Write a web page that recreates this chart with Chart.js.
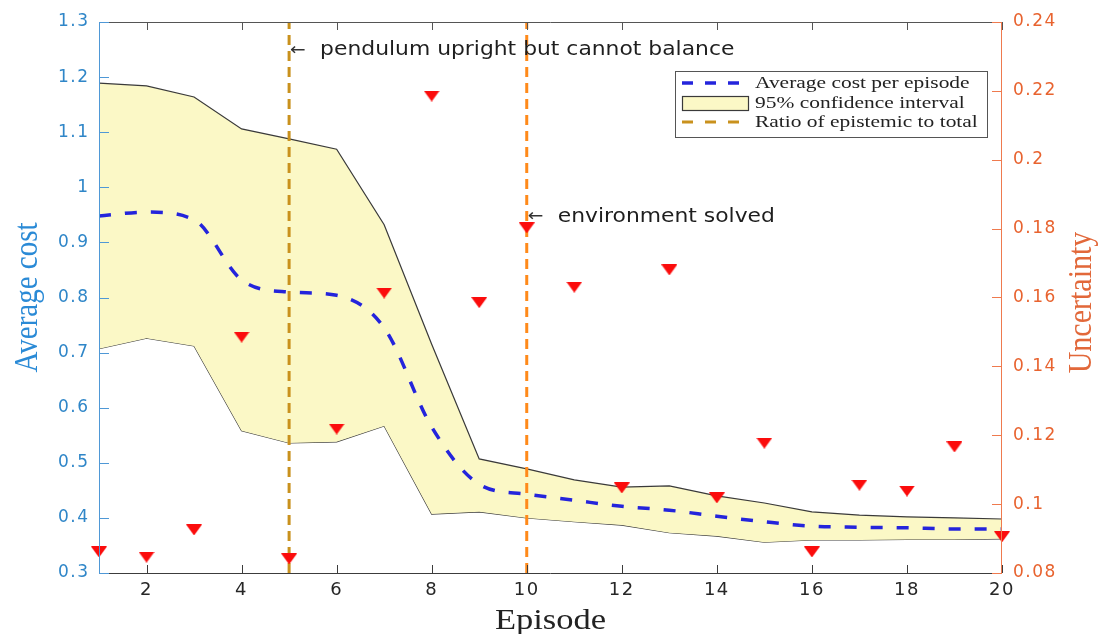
<!DOCTYPE html>
<html>
<head>
<meta charset="utf-8">
<title>Average cost and uncertainty per episode</title>
<script src="https://cdn.jsdelivr.net/npm/chart.js@4.4.0/dist/chart.umd.min.js"></script>
<style>
  html, body { margin: 0; padding: 0; background: #ffffff; }
  #wrap { width: 1105px; height: 634px; }
</style>
</head>
<body>
<div id="wrap"><canvas id="c" width="1105" height="634"></canvas></div>
<script>
// ---- data ----
const episodes    = [1, 2, 3, 4, 5, 6, 7, 8, 9, 10, 11, 12, 13, 14, 15, 16, 17, 18, 19, 20];
const avgCost     = [0.948, 0.955, 0.941, 0.832, 0.810, 0.804, 0.745, 0.565, 0.461, 0.443,
                     0.432, 0.421, 0.414, 0.403, 0.393, 0.385, 0.383, 0.382, 0.380, 0.380];
const ciUpper     = [1.189, 1.184, 1.164, 1.106, 1.088, 1.069, 0.932, 0.715, 0.507, 0.489,
                     0.469, 0.456, 0.458, 0.440, 0.427, 0.411, 0.405, 0.402, 0.400, 0.398];
const ciLower     = [0.707, 0.726, 0.712, 0.558, 0.536, 0.538, 0.567, 0.407, 0.411, 0.400,
                     0.393, 0.387, 0.373, 0.367, 0.356, 0.360, 0.360, 0.361, 0.361, 0.362];
const uncertainty = [0.0861, 0.0846, 0.0925, 0.1485, 0.0841, 0.1218, 0.1613, 0.2185, 0.1585, 0.1802,
                     0.1630, 0.1047, 0.1680, 0.1018, 0.1177, 0.0861, 0.1055, 0.1038, 0.1166, 0.0905];

// events marked with vertical lines, and the cost level their notes sit at
const eventEpisodes  = [5, 10];
const eventNotes     = ['pendulum upright but cannot balance', 'environment solved'];
const eventNoteCost  = [1.249, 0.946];

// axis ticks
const xTicks    = [2, 4, 6, 8, 10, 12, 14, 16, 18, 20];
const costTicks = [0.3, 0.4, 0.5, 0.6, 0.7, 0.8, 0.9, 1.0, 1.1, 1.2, 1.3];
const uncTicks  = [0.08, 0.10, 0.12, 0.14, 0.16, 0.18, 0.20, 0.22, 0.24];

// legend entries
const legendLabels = ['Average cost per episode', '95% confidence interval', 'Ratio of epistemic to total'];

// ---- styles ----
const COST_BLUE  = '#2f86c8';
const UNC_ORANGE = '#e8632f';
const MEAN_BLUE  = '#2424dc';
const CI_FILL    = '#fbf8c6';
const CI_EDGE    = '#3a3a3a';
const EVENT_COLORS = ['#c9911d', '#ff8a1a'];
const TICK_FONT  = '"DejaVu Sans", sans-serif';
const SERIF      = '"Liberation Serif", "Times New Roman", serif';

// downward triangle marker
const tri = document.createElement('canvas');
tri.width = 16; tri.height = 11;
(function () {
  const g = tri.getContext('2d');
  g.fillStyle = '#fb0c0c';
  g.beginPath();
  g.moveTo(0, 0); g.lineTo(16, 0); g.lineTo(8, 11); g.closePath();
  g.fill();
})();

const pts = (ys) => episodes.map((e, i) => ({ x: e, y: ys[i] }));
const fmt = (v) => String(+Number(v).toFixed(2));

const eventDatasets = eventEpisodes.map((e, i) => ({
  label: 'event' + i,
  data: [{ x: e, y: costTicks[0] }, { x: e, y: costTicks[costTicks.length - 1] }],
  yAxisID: 'y',
  borderColor: EVENT_COLORS[i],
  borderWidth: 3,
  borderDash: [10, 6],
  pointRadius: 0,
  fill: false,
  order: 2
}));

const datasets = [
  {
    label: 'Uncertainty',
    data: pts(uncertainty),
    yAxisID: 'y2',
    showLine: false,
    pointStyle: tri,
    pointRadius: 8,
    clip: false,
    order: 0
  },
  {
    label: legendLabels[0],
    data: pts(avgCost),
    yAxisID: 'y',
    borderColor: MEAN_BLUE,
    borderWidth: 3.5,
    borderDash: [12, 14],
    cubicInterpolationMode: 'monotone',
    pointRadius: 0,
    fill: false,
    order: 1
  },
  ...eventDatasets,
  {
    label: legendLabels[1],
    data: pts(ciUpper),
    yAxisID: 'y',
    borderColor: CI_EDGE,
    borderWidth: 1.2,
    backgroundColor: CI_FILL,
    pointRadius: 0,
    tension: 0,
    fill: '+1',
    order: 3
  },
  {
    label: 'lower',
    data: pts(ciLower),
    yAxisID: 'y',
    borderColor: CI_EDGE,
    borderWidth: 1.2,
    pointRadius: 0,
    tension: 0,
    fill: false,
    order: 3
  }
];

function stretchText(ctx, text, x, y, sx) {
  ctx.save();
  ctx.translate(x, y);
  ctx.scale(sx, 1);
  ctx.fillText(text, 0, 0);
  ctx.restore();
}

// tick labels are a little wider than the plain font
const spacingPlugin = {
  id: 'tickSpacing',
  beforeDraw(chart) { chart.ctx.letterSpacing = '1.5px'; },
  beforeDatasetsDraw(chart) { chart.ctx.letterSpacing = '0px'; }
};

// box, inward ticks, notes, titles and legend
const framePlugin = {
  id: 'frame',
  afterDatasetsDraw(chart) {
    const { ctx, chartArea: a, scales } = chart;
    const X = scales.x, Y = scales.y, Y2 = scales.y2;
    ctx.save();
    ctx.lineWidth = 1;
    // top and bottom
    ctx.strokeStyle = '#555555';
    ctx.beginPath(); ctx.moveTo(a.left, a.top + 0.5); ctx.lineTo(a.right, a.top + 0.5); ctx.stroke();
    ctx.strokeStyle = '#3c3c3c';
    ctx.beginPath(); ctx.moveTo(a.left, a.bottom + 0.5); ctx.lineTo(a.right, a.bottom + 0.5); ctx.stroke();
    xTicks.forEach(v => {
      const px = Math.round(X.getPixelForValue(v)) + 0.5;
      ctx.strokeStyle = '#3c3c3c';
      ctx.beginPath(); ctx.moveTo(px, a.bottom); ctx.lineTo(px, a.bottom - 8); ctx.stroke();
      ctx.strokeStyle = '#555555';
      ctx.beginPath(); ctx.moveTo(px, a.top); ctx.lineTo(px, a.top + 8); ctx.stroke();
    });
    // left axis
    ctx.strokeStyle = '#4f98d6';
    ctx.beginPath(); ctx.moveTo(a.left + 0.5, a.top); ctx.lineTo(a.left + 0.5, a.bottom + 1); ctx.stroke();
    costTicks.forEach(v => {
      const py = Math.round(Y.getPixelForValue(v)) + 0.5;
      ctx.beginPath(); ctx.moveTo(a.left, py); ctx.lineTo(a.left + 10, py); ctx.stroke();
    });
    // right axis
    ctx.strokeStyle = '#ef7a4e';
    ctx.beginPath(); ctx.moveTo(a.right - 0.5, a.top); ctx.lineTo(a.right - 0.5, a.bottom + 1); ctx.stroke();
    uncTicks.forEach(v => {
      const py = Math.round(Y2.getPixelForValue(v)) + 0.5;
      ctx.beginPath(); ctx.moveTo(a.right, py); ctx.lineTo(a.right - 10, py); ctx.stroke();
    });
    ctx.restore();
  },
  afterDraw(chart) {
    const { ctx, chartArea: a, scales } = chart;
    const X = scales.x, Y = scales.y;
    ctx.save();
    ctx.letterSpacing = '0px';

    // event notes
    eventEpisodes.forEach((e, i) => {
      const px = X.getPixelForValue(e);
      const py = Y.getPixelForValue(eventNoteCost[i]);
      ctx.fillStyle = '#333333';
      ctx.textBaseline = 'middle';
      ctx.textAlign = 'left';
      ctx.font = '17px ' + TICK_FONT;
      stretchText(ctx, '\u2190', px + 1, py, 1.1);
      ctx.fillStyle = '#1e1e1e';
      ctx.font = '19px ' + TICK_FONT;
      stretchText(ctx, eventNotes[i], px + 31, py, 1.15);
    });

    // axis titles
    ctx.textAlign = 'center';
    ctx.textBaseline = 'alphabetic';
    const midY = (a.top + a.bottom) / 2;
    ctx.font = '29px ' + SERIF;
    ctx.fillStyle = '#2a8ad6';
    ctx.save(); ctx.translate(37, midY); ctx.rotate(-Math.PI / 2); ctx.scale(1, 1.15);
    ctx.fillText('Average cost', 0, 0); ctx.restore();
    ctx.font = '30px ' + SERIF;
    ctx.fillStyle = '#e2683a';
    ctx.save(); ctx.translate(1091, midY + 5); ctx.rotate(-Math.PI / 2); ctx.scale(1, 1.15);
    ctx.fillText('Uncertainty', 0, 0); ctx.restore();
    ctx.font = '30px ' + SERIF;
    ctx.fillStyle = '#222222';
    stretchText(ctx, 'Episode', (a.left + a.right) / 2, 629, 1.15);

    // legend
    const bx = a.right - 327, by = a.top + 49, bw = 312, bh = 66;
    ctx.fillStyle = '#ffffff';
    ctx.fillRect(bx, by, bw, bh);
    ctx.strokeStyle = '#555555';
    ctx.lineWidth = 1;
    ctx.strokeRect(bx + 0.5, by + 0.5, bw, bh);
    const rows = [by + 12, by + 32, by + 51];
    const sx0 = bx + 7, sx1 = bx + 73;
    ctx.lineWidth = 3.5;
    ctx.setLineDash([11, 12]);
    ctx.strokeStyle = MEAN_BLUE;
    ctx.beginPath(); ctx.moveTo(sx0, rows[0]); ctx.lineTo(sx1, rows[0]); ctx.stroke();
    ctx.lineWidth = 3;
    ctx.strokeStyle = EVENT_COLORS[0];
    ctx.beginPath(); ctx.moveTo(sx0, rows[2]); ctx.lineTo(sx1, rows[2]); ctx.stroke();
    ctx.setLineDash([]);
    ctx.fillStyle = CI_FILL;
    ctx.fillRect(sx0, rows[1] - 7, sx1 - sx0, 14);
    ctx.strokeStyle = CI_EDGE;
    ctx.lineWidth = 1.2;
    ctx.strokeRect(sx0 + 0.5, rows[1] - 7 + 0.5, sx1 - sx0, 14);
    ctx.fillStyle = '#222222';
    ctx.textAlign = 'left';
    ctx.textBaseline = 'middle';
    ctx.font = '16.5px ' + SERIF;
    legendLabels.forEach((t, i) => stretchText(ctx, t, bx + 80, rows[i] + 1, 1.3));
    ctx.restore();
  }
};

new Chart(document.getElementById('c'), {
  type: 'line',
  data: { datasets },
  options: {
    responsive: false,
    devicePixelRatio: 1,
    animation: false,
    layout: { padding: { top: 22, left: 0, right: 0, bottom: 0 } },
    plugins: { legend: { display: false }, tooltip: { enabled: false } },
    scales: {
      x: {
        type: 'linear',
        min: 1, max: 20,
        afterBuildTicks: s => { s.ticks = xTicks.map(v => ({ value: v })); },
        afterFit: s => { s.height = 61; },
        grid: { display: false, drawTicks: false },
        border: { display: false },
        ticks: {
          autoSkip: false, maxRotation: 0, padding: 7,
          color: '#262626',
          font: { family: TICK_FONT, size: 18 },
          callback: v => fmt(v)
        }
      },
      y: {
        position: 'left',
        min: 0.3, max: 1.3,
        afterBuildTicks: s => { s.ticks = costTicks.map(v => ({ value: v })); },
        afterFit: s => { s.width = 99; },
        grid: { display: false, drawTicks: false },
        border: { display: false },
        ticks: {
          padding: 9.5,
          color: COST_BLUE,
          font: { family: TICK_FONT, size: 17 },
          callback: v => fmt(v)
        }
      },
      y2: {
        position: 'right',
        min: 0.08, max: 0.24,
        afterBuildTicks: s => { s.ticks = uncTicks.map(v => ({ value: v })); },
        afterFit: s => { s.width = 103; },
        grid: { display: false, drawTicks: false },
        border: { display: false },
        ticks: {
          padding: 11,
          color: UNC_ORANGE,
          font: { family: TICK_FONT, size: 17 },
          callback: v => fmt(v)
        }
      }
    }
  },
  plugins: [spacingPlugin, framePlugin]
});
</script>
</body>
</html>
